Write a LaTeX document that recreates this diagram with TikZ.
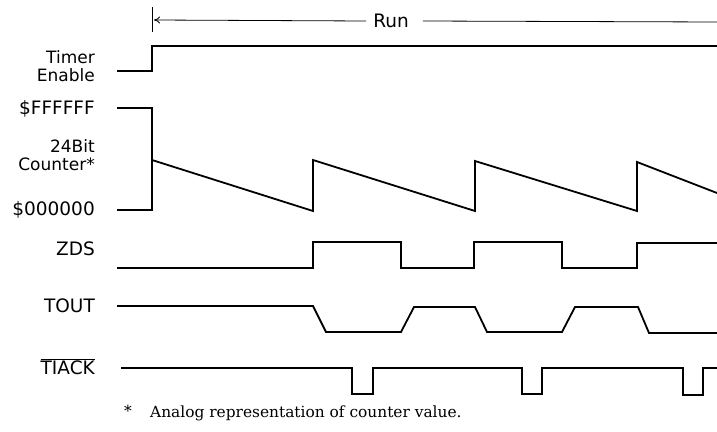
\documentclass[tikz,border=0pt]{standalone}
\usepackage{fontspec}
\setsansfont{DejaVu Sans}
\newfontfamily\notefont{DejaVu Serif}
\usepackage{tikz}
\usetikzlibrary{calc, arrows.meta}

\begin{document}
\begin{tikzpicture}[
    x = 1pt, y = -1pt, line join = miter,
    every node/.style = {inner sep = 0pt, font = \sffamily\fontsize{18.5}{16}\selectfont},
    siglabel/.style = {anchor = east, align = right},
    twoline/.style = {siglabel, font = \sffamily\fontsize{17}{18.5}\selectfont},
    wave/.style = {line width = 1.8pt},
    runline/.style = {line width = 0.8pt},
    >= {To[length=6pt, width=7pt]}
  ]
  \useasboundingbox (0,0) rectangle (717,431);

  % Run marker
  \coordinate (RunTop) at (152,7);
  \coordinate (RunBot) at (152,32);
  \coordinate (RunTip) at (154,20);
  \coordinate (RunEnd) at (717,22);
  \draw[runline] (RunTop) -- (RunBot);
  \node[inner xsep = 7pt] (Run) at (391,21) {Run};
  \draw[runline, ->] (Run.west) -- (RunTip);
  \draw[runline] ([xshift=7pt]Run.east) -- (RunEnd);

  % Labels
  \node[twoline] (Timer) at (95,66) {Timer\\Enable};
  \node[siglabel] (Full) at (95,109) {\$FFFFFF};
  \node[twoline] (Counter) at (95,155) {24Bit\\Counter*};
  \node[siglabel] (Zero) at (95,210) {\$000000};
  \node[siglabel] (ZDS) at (95,249) {ZDS};
  \node[siglabel] (TOUT) at (95,306) {TOUT};
  \node[siglabel] (TIACK) at (95,367) {$\overline{\mbox{TIACK}}$};

  % Waveforms
  \draw[wave] (117,71) -- (152,71) -- (152,46) -- (717,46);
  \draw[wave] (117,108) -- (152,108) -- (152,210) -- (117,210);
  \draw[wave] (152,160) -- (313,211) -- (313,160) -- (475,211)
    -- (475,161) -- (637,211) -- (637,162) -- (717,193);
  \draw[wave] (117,268) -- (313,268) -- (313,242) -- (401,242)
    -- (401,268) -- (474,268) -- (474,242) -- (562,242)
    -- (562,268) -- (637,268) -- (637,243) -- (717,243);
  \draw[wave] (117,306) -- (313,306) -- (326,332) -- (401,332)
    -- (414,307) -- (475,307) -- (487,332) -- (562,332)
    -- (575,307) -- (638,307) -- (649,333) -- (717,333);
  \draw[wave] (121,368) -- (352,368) -- (352,394) -- (373,394)
    -- (373,368) -- (522,368) -- (522,394) -- (542,394)
    -- (542,368) -- (683,368) -- (683,395) -- (703,395)
    -- (703,368) -- (717,368);

  % Footnote
  \begin{scope}[every node/.style = {inner sep = 0pt, font = \notefont\fontsize{15.4}{15}\selectfont}]
    \node (Star) at (128,411) {*};
    \node[anchor = base west] (Note) at (150,417)
      {Analog representation of counter value.};
  \end{scope}

\end{tikzpicture}
\end{document}
